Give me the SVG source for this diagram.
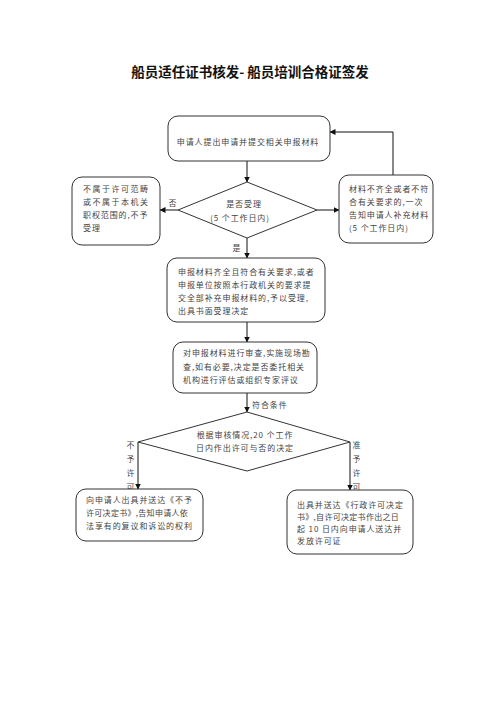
<svg xmlns="http://www.w3.org/2000/svg" width="500" height="707" viewBox="0 0 500 707">
<defs>
<marker id="arr" markerWidth="6" markerHeight="6" refX="5.5" refY="3" orient="auto" markerUnits="userSpaceOnUse">
<path d="M0,0 L6,3 L0,6 Z" fill="#111"/>
</marker>
<style>
.box{fill:#fff;stroke:#333;stroke-width:1}
.t{font-family:"Noto Sans CJK SC","Noto Sans",sans-serif;font-size:8px;fill:#444;letter-spacing:0.9px}
.tw{letter-spacing:1.5px}
.tn{letter-spacing:0.3px}
.c{text-anchor:middle}
.ln{fill:none;stroke:#111;stroke-width:1}
.title{font-family:"Noto Sans CJK SC","Noto Sans",sans-serif;font-size:13.5px;font-weight:bold;fill:#111;text-anchor:middle}
</style>
</defs>
<rect width="500" height="707" fill="#fff"/>
<text class="title" x="250" y="77">船员适任证书核发- 船员培训合格证签发</text>

<g id="connectors">
<path class="ln" d="M247,161 V182" marker-end="url(#arr)"/>
<path class="ln" d="M178,210 H160" marker-end="url(#arr)"/>
<path class="ln" d="M317,210 H339" marker-end="url(#arr)"/>
<path class="ln" d="M393,175 V132 H330" marker-end="url(#arr)"/>
<path class="ln" d="M247,238 V258" marker-end="url(#arr)"/>
<path class="ln" d="M247,322 V342" marker-end="url(#arr)"/>
<path class="ln" d="M247,393 V412" marker-end="url(#arr)"/>
<path class="ln" d="M138,442 V489" marker-end="url(#arr)"/>
<path class="ln" d="M350,442 V490" marker-end="url(#arr)"/>
<text class="t" x="173" y="206" text-anchor="middle">否</text>
<text class="t" x="237" y="251" text-anchor="middle">是</text>
<text class="t" x="252" y="408">符合条件</text>
<text class="t c" x="131" y="448">不</text>
<text class="t c" x="131" y="462">予</text>
<text class="t c" x="131" y="476">许</text>
<text class="t c" x="131" y="490">可</text>
<text class="t c" x="357" y="448">准</text>
<text class="t c" x="357" y="462">予</text>
<text class="t c" x="357" y="476">许</text>
<text class="t c" x="357" y="490">可</text>
</g>

<g id="n-submit">
<rect class="box" x="168" y="116" width="162" height="45" rx="10"/>
<text class="t c" x="248" y="145">申请人提出申请并提交相关申报材料</text>
</g>

<g id="n-accept">
<polygon class="box" points="247,182 317,210 247,238 178,210"/>
<text class="t c" x="244" y="207">是否受理</text>
<text class="t c" x="240" y="221">(5 个工作日内)</text>
</g>

<g id="n-reject">
<rect class="box" x="72" y="177" width="88" height="68" rx="10"/>
<text class="t tw" x="83" y="192">不属于许可范畴</text>
<text class="t tw" x="83" y="205">或不属于本机关</text>
<text class="t" x="83" y="218">职权范围的,不予</text>
<text class="t" x="83" y="231">受理</text>
</g>

<g id="n-supplement">
<rect class="box" x="339" y="175" width="94" height="68" rx="10"/>
<text class="t" x="349" y="192">材料不齐全或者不符</text>
<text class="t" x="349" y="205">合有关要求的,一次</text>
<text class="t" x="349" y="218">告知申请人补充材料</text>
<text class="t" x="349" y="231">(5 个工作日内)</text>
</g>

<g id="n-accepted">
<rect class="box" x="167" y="258" width="158" height="64" rx="10"/>
<text class="t" x="178" y="275">申报材料齐全且符合有关要求,或者</text>
<text class="t" x="178" y="288">申报单位按照本行政机关的要求提</text>
<text class="t" x="178" y="301">交全部补充申报材料的,予以受理,</text>
<text class="t" x="178" y="314">出具书面受理决定</text>
</g>

<g id="n-review">
<rect class="box" x="173" y="342" width="144" height="51" rx="10"/>
<text class="t" x="183" y="356">对申报材料进行审查,实施现场勘</text>
<text class="t" x="183" y="370">查,如有必要,决定是否委托相关</text>
<text class="t" x="183" y="383">机构进行评估或组织专家评议</text>
</g>

<g id="n-decide">
<polygon class="box" points="247,412 350,442 247,471 138,442"/>
<text class="t c" x="245" y="438">根据审核情况,20 个工作</text>
<text class="t c" x="245" y="451">日内作出许可与否的决定</text>
</g>

<g id="n-deny">
<rect class="box" x="76" y="489" width="127" height="52" rx="10"/>
<text class="t" x="86" y="503">向申请人出具并送达《不予</text>
<text class="t tn" x="86" y="516">许可决定书》,告知申请人依</text>
<text class="t" x="86" y="529">法享有的复议和诉讼的权利</text>
</g>

<g id="n-grant">
<rect class="box" x="287" y="490" width="126" height="64" rx="10"/>
<text class="t" x="297" y="508">出具并送达《行政许可决定</text>
<text class="t tn" x="297" y="520">书》,自许可决定书作出之日</text>
<text class="t" x="297" y="532">起 10 日内向申请人送达并</text>
<text class="t" x="297" y="544">发放许可证</text>
</g>
</svg>
